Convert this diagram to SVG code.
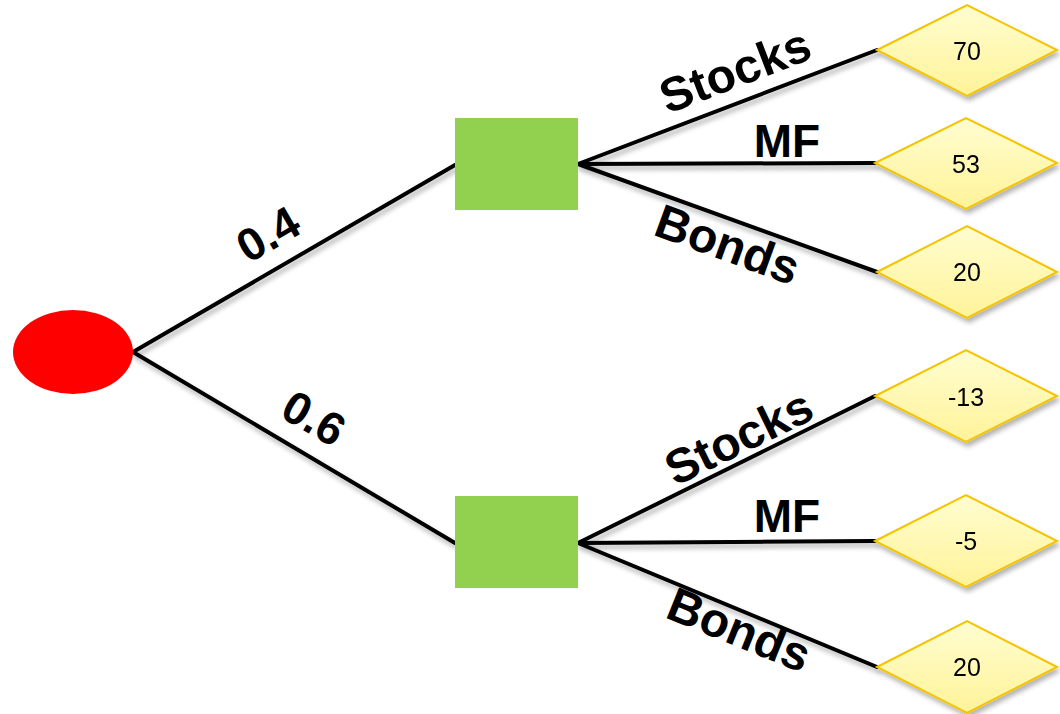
<svg xmlns="http://www.w3.org/2000/svg" width="1060" height="714" viewBox="0 0 1060 714">
<defs>
<linearGradient id="yg" x1="0" y1="0" x2="0" y2="1">
<stop offset="0" stop-color="#FFFDD0"/>
<stop offset="1" stop-color="#FFF399"/>
</linearGradient>
<filter id="sh" x="-20%" y="-20%" width="140%" height="160%">
<feGaussianBlur in="SourceAlpha" stdDeviation="2.5"/>
<feOffset dx="2" dy="4" result="b"/>
<feComponentTransfer><feFuncA type="linear" slope="0.3"/></feComponentTransfer>
<feMerge><feMergeNode/><feMergeNode in="SourceGraphic"/></feMerge>
</filter>
</defs>
<style>
.e{stroke:#000;stroke-width:4;fill:none;stroke-linecap:round}
.d{fill:url(#yg);stroke:#F5C400;stroke-width:2}
.g{fill:#92D050}
.t{font-family:"Liberation Sans",Arial,sans-serif;font-size:25px;fill:#000;text-anchor:middle;dominant-baseline:central}
.l{font-family:"Liberation Sans",Arial,sans-serif;font-size:48px;font-weight:bold;fill:#000;text-anchor:middle}
.m{font-family:"Liberation Sans",Arial,sans-serif;font-size:46px;font-weight:bold;fill:#000;text-anchor:middle}
</style>
<g id="connectors" filter="url(#sh)">
<path class="e" d="M133 352 L455 165"/>
<path class="e" d="M133 352 L455 543"/>
<path class="e" d="M578 164 L877 50"/>
<path class="e" d="M578 164 L875 163"/>
<path class="e" d="M578 164 L877 272"/>
<path class="e" d="M578 543 L875 396"/>
<path class="e" d="M578 543 L875 541"/>
<path class="e" d="M578 543 L877 667"/>
</g>
<g id="labels">
<text class="m" transform="translate(276,248) rotate(-30)">0.4</text>
<text class="m" transform="translate(306,432) rotate(30)">0.6</text>
<text class="l" transform="translate(741,86) rotate(-21)">Stocks</text>
<text class="m" x="787" y="157">MF</text>
<text class="l" transform="translate(722,260) rotate(20)">Bonds</text>
<text class="l" transform="translate(746,452) rotate(-26)">Stocks</text>
<text class="m" x="787" y="532">MF</text>
<text class="l" transform="translate(733,645) rotate(22)">Bonds</text>
</g>
<g id="root"><ellipse cx="73" cy="352" rx="60" ry="42" fill="#FF0000"/></g>
<g id="d1"><rect class="g" x="455" y="118" width="123" height="92"/></g>
<g id="d2"><rect class="g" x="455" y="496" width="123" height="92"/></g>
<g id="o1" filter="url(#sh)"><polygon class="d" points="877,50 967,5 1057,50 967,96"/><text class="t" x="967" y="51">70</text></g>
<g id="o2" filter="url(#sh)"><polygon class="d" points="875,163 966,118 1057,163 966,209"/><text class="t" x="966" y="164">53</text></g>
<g id="o3" filter="url(#sh)"><polygon class="d" points="877,272 967,226 1057,272 967,318"/><text class="t" x="967" y="272">20</text></g>
<g id="o4" filter="url(#sh)"><polygon class="d" points="875,396 966,350 1057,396 966,442"/><text class="t" x="966" y="397">-13</text></g>
<g id="o5" filter="url(#sh)"><polygon class="d" points="875,541 966,495 1057,541 966,587"/><text class="t" x="966" y="541">-5</text></g>
<g id="o6" filter="url(#sh)"><polygon class="d" points="877,667 967,621 1057,667 967,713"/><text class="t" x="967" y="667">20</text></g>
</svg>
